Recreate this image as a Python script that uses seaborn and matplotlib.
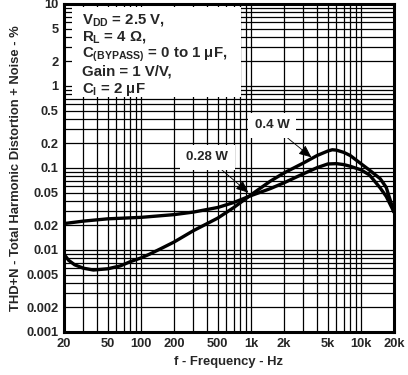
import matplotlib
matplotlib.use("Agg")
import matplotlib.pyplot as plt
from matplotlib.patches import Rectangle
import matplotlib.ticker as mt
import seaborn as sns
import pandas as pd

# ---- data ----
freq_028 = [20, 30, 50, 100, 200, 300, 500, 700, 1000, 1500, 2000, 3000, 4000,
            5000, 6000, 7000, 8000, 10000, 12000, 15000, 17000, 20000]
thd_028 = [0.021, 0.0225, 0.024, 0.025, 0.027, 0.029, 0.033, 0.038, 0.046, 0.056,
           0.066, 0.085, 0.101, 0.112, 0.113, 0.110, 0.105, 0.095, 0.082, 0.057,
           0.045, 0.029]

freq_04 = [20, 22, 25, 30, 37, 50, 65, 80, 100, 120, 150, 200, 300, 500, 700,
           1000, 1500, 2000, 3000, 4000, 5000, 5500, 6000, 7000, 8000, 10000,
           12000, 15000, 17000, 20000]
thd_04 = [0.0089, 0.0075, 0.0066, 0.0060, 0.0057, 0.0059, 0.0064, 0.0072, 0.0080,
          0.0089, 0.0103, 0.0125, 0.0172, 0.0245, 0.033, 0.047, 0.069, 0.087,
          0.115, 0.142, 0.161, 0.167, 0.165, 0.155, 0.142, 0.113, 0.094, 0.074,
          0.058, 0.029]

x_ticks = [20, 50, 100, 200, 500, 1000, 2000, 5000, 10000, 20000]
x_labels = ["20", "50", "100", "200", "500", "1k", "2k", "5k", "10k", "20k"]
y_ticks = [0.001, 0.002, 0.005, 0.01, 0.02, 0.05, 0.1, 0.2, 0.5, 1, 2, 5, 10]
y_labels = ["0.001", "0.002", "0.005", "0.01", "0.02", "0.05", "0.1", "0.2",
            "0.5", "1", "2", "5", "10"]

cond_lines = [r"V$_{\mathrm{DD}}$ = 2.5 V,",
              r"R$_{\mathrm{L}}$ = 4 Ω,",
              r"C$_{\mathrm{(BYPASS)}}$ = 0 to 1 μF,",
              "Gain = 1 V/V,",
              r"C$_{\mathrm{I}}$ = 2 μF"]

df = pd.concat([
    pd.DataFrame({"f": freq_028, "thd": thd_028, "p": "0.28 W"}),
    pd.DataFrame({"f": freq_04, "thd": thd_04, "p": "0.4 W"}),
])

sns.set_style("white")
plt.rcParams["font.family"] = ["Liberation Sans", "DejaVu Sans"]
plt.rcParams["font.weight"] = "bold"
plt.rcParams["mathtext.fontset"] = "custom"
plt.rcParams["mathtext.rm"] = "Liberation Sans:bold"
plt.rcParams["mathtext.it"] = "Liberation Sans:bold"
plt.rcParams["mathtext.bf"] = "Liberation Sans:bold"

fig = plt.figure(figsize=(4.08, 3.75), dpi=100)
ax = fig.add_axes([64/408, 1-332/375, 330/408, 328/375])

sns.lineplot(data=df, x="f", y="thd", units="p", estimator=None, color="black",
             lw=2.4, ax=ax, legend=False, zorder=4)

ax.set_xscale("log")
ax.set_yscale("log")
ax.set_xlim(20, 20000)
ax.set_ylim(0.001, 10)
ax.grid(which="both", color="black", lw=0.9)
ax.set_axisbelow(True)
ax.set_xticks(x_ticks)
ax.set_xticklabels(x_labels)
ax.set_yticks(y_ticks)
ax.set_yticklabels(y_labels)
ax.xaxis.set_minor_locator(mt.LogLocator(base=10, subs=range(2, 10), numticks=20))
ax.yaxis.set_minor_locator(mt.LogLocator(base=10, subs=range(2, 10), numticks=20))
ax.xaxis.set_minor_formatter(mt.NullFormatter())
ax.yaxis.set_minor_formatter(mt.NullFormatter())
ax.tick_params(which="both", length=0, labelsize=9.3, pad=4)
for t in ax.get_xticklabels() + ax.get_yticklabels():
    t.set_fontweight("bold")
for s in ax.spines.values():
    s.set_linewidth(2.2)
    s.set_color("black")
    s.set_zorder(5)

ax.set_xlabel("f - Frequency - Hz", fontsize=9.4, fontweight="bold", labelpad=5)
ax.set_ylabel("THD+N - Total Harmonic Distortion + Noise - %", fontsize=9.4,
              fontweight="bold", labelpad=3)

# conditions box
ax.add_patch(Rectangle(((72-64)/330, 1-(97-4)/328), (241-72)/330, (97-7)/328,
                       transform=ax.transAxes, facecolor="white",
                       edgecolor="none", zorder=3))
for i, line in enumerate(cond_lines):
    ypix = 20 + i*17.3
    ax.text((82-64)/330, 1-(ypix-4)/328, line, transform=ax.transAxes,
            fontsize=10.8, fontweight="bold", va="center", ha="left", zorder=6)

bbox = dict(boxstyle="square,pad=0.5", fc="white", ec="none")
ax.annotate("0.4 W", xy=(3550, 0.135), xytext=(1560, 0.33), fontsize=9.5,
            fontweight="bold", ha="center", va="center", bbox=bbox, zorder=6,
            arrowprops=dict(arrowstyle="-|>,head_length=0.8,head_width=0.35",
                            color="black", lw=0.6, shrinkA=0, shrinkB=0))
ax.annotate("0.28 W", xy=(950, 0.05), xytext=(400, 0.135), fontsize=9.5,
            fontweight="bold", ha="center", va="center", bbox=bbox, zorder=6,
            arrowprops=dict(arrowstyle="-|>,head_length=0.8,head_width=0.35",
                            color="black", lw=0.6, shrinkA=0, shrinkB=0))

fig.savefig("out.png", dpi=100)
